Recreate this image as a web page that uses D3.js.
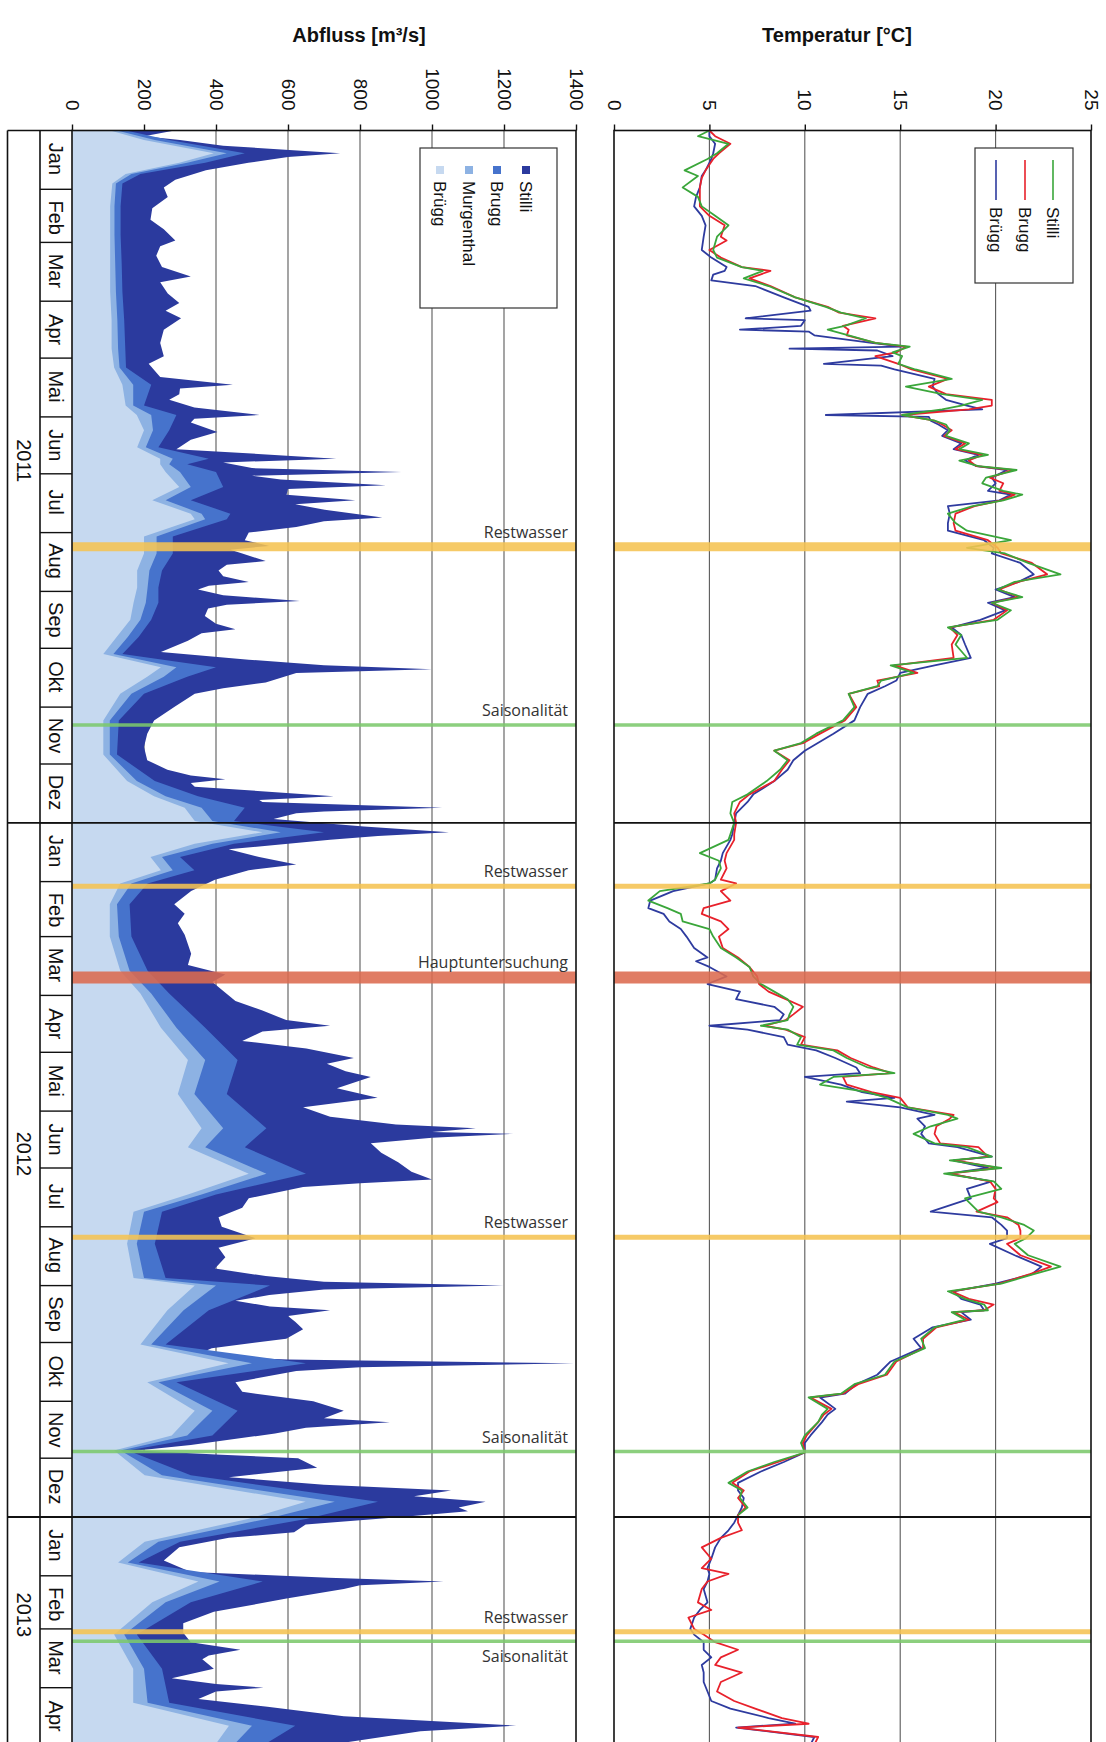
<!DOCTYPE html>
<html>
<head>
<meta charset="utf-8">
<script src="https://cdn.jsdelivr.net/npm/d3@7"></script>
<style>
  body { margin: 0; background: #fff; }
  svg { display: block; }
  text { font-family: "Liberation Sans", Arial, sans-serif; fill: #111; }
  .note { font-family: "Open Sans", "Liberation Sans", sans-serif; fill: #333; }
</style>
</head>
<body>
<script>
// ---- time frame (days counted from 1 Jan 2011) ----
const startDate = "2011-01-01";
const endDate = "2013-05-01";
const monthNames = ["Jan", "Feb", "Mar", "Apr", "Mai", "Jun", "Jul", "Aug", "Sep", "Okt", "Nov", "Dez"];
const yearLabels = ["2011", "2012", "2013"];

// ---- discharge axis ----
const qTicks = [0, 200, 400, 600, 800, 1000, 1200, 1400];
const qSeriesNames = ["Stilli", "Brugg", "Murgenthal", "Brügg"];

// Abfluss Stilli [m3/s] : [day, value]
const qStilli = [[0,285],[3,200],[5,300],[8,420],[12,745],[14,600],[17,490],[21,372],[26,287],[30,255],[35,266],[41,223],[47,218],[52,255],[58,287],[61,245],[66,234],[72,250],[77,330],[80,245],[86,266],[91,298],[95,260],[99,303],[105,255],[112,245],[119,255],[123,213],[130,245],[134,447],[136,300],[139,298],[142,270],[146,340],[150,521],[152,340],[154,330],[159,404],[163,330],[168,290],[173,734],[175,420],[178,500],[180,915],[182,500],[184,580],[187,872],[189,600],[192,596],[195,787],[197,620],[200,702],[204,862],[206,700],[209,623],[212,491],[216,480],[219,548],[221,440],[223,473],[227,538],[229,430],[232,407],[235,420],[238,491],[240,380],[242,350],[245,420],[248,633],[250,430],[252,378],[256,369],[260,400],[263,454],[265,360],[269,322],[275,247],[279,491],[282,700],[284,1000],[286,623],[291,538],[294,420],[297,341],[304,284],[311,228],[318,209],[325,200],[332,209],[337,265],[340,330],[342,426],[344,330],[346,341],[348,500],[351,727],[353,520],[354,529],[357,1028],[359,700],[360,623],[363,560],[367,811],[370,1047],[372,850],[374,717],[379,435],[383,520],[387,623],[390,491],[395,397],[401,331],[408,284],[413,313],[418,294],[424,313],[429,322],[434,331],[440,322],[445,426],[449,390],[453,416],[459,454],[464,529],[469,595],[472,717],[475,529],[480,473],[484,651],[489,783],[492,708],[496,760],[499,830],[505,736],[510,849],[515,642],[520,717],[524,900],[526,1122],[528,1000],[529,1226],[531,1000],[534,830],[539,859],[544,906],[549,943],[553,1000],[555,800],[557,642],[563,491],[568,473],[573,407],[578,416],[584,510],[589,407],[594,426],[600,397],[604,538],[607,700],[609,1198],[611,700],[614,548],[617,454],[620,550],[622,717],[625,600],[628,620],[632,642],[637,595],[642,388],[646,341],[648,600],[650,1395],[652,800],[654,623],[660,454],[665,473],[670,670],[675,755],[679,700],[681,883],[684,650],[687,564],[693,330],[696,181],[698,400],[700,628],[705,681],[710,436],[714,700],[717,1053],[720,950],[723,1149],[726,1074],[728,1100],[731,915],[735,649],[739,617],[742,436],[747,298],[754,255],[760,330],[763,713],[765,1032],[767,800],[769,755],[774,596],[781,394],[787,309],[792,309],[797,330],[801,468],[804,380],[806,362],[811,394],[816,277],[819,400],[821,532],[823,400],[827,351],[831,543],[836,755],[841,1234],[844,968],[850,755],[855,700]];

// Abfluss Brugg, Murgenthal, Brügg share these sampling days
const qDaysUpstream = [0,5,12,17,23,28,40,55,70,85,100,115,125,134,145,150,158,167,173,176,180,188,195,202,205,214,223,232,241,249,258,267,276,283,288,297,311,329,343,351,357,364,370,376,383,390,397,408,425,443,455,473,490,508,526,536,550,561,570,587,605,609,622,640,650,660,675,688,696,709,723,732,744,755,765,776,793,811,829,841,855];
const qBrugg      = [150,270,480,370,190,140,135,135,138,140,145,148,150,220,200,290,270,240,380,320,400,420,330,440,430,280,280,250,240,240,220,185,140,400,320,200,130,125,230,350,480,450,700,450,300,340,210,160,165,210,270,370,460,430,540,480,650,400,250,230,260,550,380,260,650,290,460,390,155,330,850,650,300,185,530,330,180,250,270,620,500];
const qMurgenthal = [125,230,430,320,165,122,118,118,120,122,126,128,132,170,170,220,225,205,280,270,300,330,260,360,370,235,235,215,210,205,190,155,115,290,255,165,105,105,180,260,360,390,580,390,250,280,165,125,130,160,220,290,370,340,420,370,540,360,200,180,200,400,310,220,500,240,390,320,135,250,730,540,240,155,410,260,145,200,210,500,430];
const qBruegg    = [106,200,394,298,149,112,106,106,106,106,110,110,117,140,149,180,200,181,245,245,260,298,223,330,341,200,200,181,181,171,162,124,87,247,209,134,87,87,153,228,313,341,529,341,218,247,134,105,105,134,190,247,322,294,360,322,491,322,171,153,171,341,265,190,435,209,341,277,117,202,649,489,202,128,351,223,117,170,170,436,383];

// ---- temperature axis ----
const tTicks = [0, 5, 10, 15, 20, 25];
const tSeriesNames = ["Stilli", "Brugg", "Brügg"];

// Temperatur Stilli [°C] : [day, value]
const tStilli = [[0,5.0],[3,4.4],[7,6.0],[12,5.4],[15,4.9],[21,3.7],[24,4.4],[30,3.6],[35,4.4],[40,4.6],[45,5.3],[50,6.0],[56,5.4],[63,5.2],[67,5.4],[72,6.7],[74,7.8],[78,6.8],[82,8.1],[88,9.5],[93,11.1],[96,11.9],[99,13.2],[103,12.1],[105,11.2],[108,12.3],[112,13.7],[114,15.5],[117,14.6],[119,15.1],[123,14.9],[126,15.8],[131,17.7],[135,15.3],[139,17.2],[142,19.3],[145,18.2],[147,17.2],[150,15.1],[153,16.8],[155,17.4],[158,17.6],[161,17.4],[165,18.6],[168,18.1],[171,19.6],[174,18.1],[177,19.1],[179,21.1],[183,19.5],[186,19.3],[190,20.4],[192,21.4],[195,20.4],[198,18.8],[202,17.5],[207,17.9],[211,18.5],[216,20.8],[220,18.5],[223,20.5],[228,21.7],[234,23.4],[238,21.0],[242,20.1],[246,21.4],[249,19.8],[253,20.8],[258,20.1],[262,17.5],[266,18.2],[271,17.9],[278,18.5],[282,14.5],[286,15.7],[290,14.0],[293,13.8],[297,12.3],[304,12.6],[311,12.0],[318,10.6],[323,9.8],[327,8.4],[332,9.1],[337,8.7],[343,8.0],[350,7.0],[354,6.2],[360,6.1],[365,6.3],[371,6.1],[374,6.0],[381,4.5],[385,5.5],[389,5.6],[395,5.3],[397,5.0],[401,2.4],[406,1.8],[410,2.8],[413,3.5],[417,3.6],[421,5.0],[425,5.2],[431,5.6],[436,6.4],[441,7.1],[446,7.3],[450,7.7],[454,8.4],[458,9.1],[462,9.4],[466,9.2],[469,9.1],[472,7.7],[474,9.1],[478,9.8],[482,9.6],[485,11.5],[489,12.2],[494,13.3],[497,14.7],[499,11.5],[503,10.8],[507,13.3],[510,14.3],[515,15.4],[519,17.5],[521,18.0],[525,16.6],[529,15.7],[534,16.8],[536,18.5],[541,19.8],[543,17.6],[547,20.3],[550,17.3],[554,19.9],[558,20.3],[563,18.4],[570,19.1],[573,20.3],[577,21.5],[580,22.0],[584,21.6],[587,21.0],[593,21.7],[599,23.4],[603,22.0],[608,20.3],[612,17.5],[616,18.4],[619,19.4],[622,19.6],[623,17.7],[627,18.4],[631,16.8],[637,16.1],[642,16.3],[649,14.7],[656,14.2],[661,12.6],[666,11.9],[668,10.2],[674,11.2],[677,10.9],[681,10.7],[688,10.0],[692,9.8],[697,10.0],[702,8.4],[707,7.0],[713,6.0],[717,6.7],[721,6.6],[726,7.0],[730,6.5]];

// Temperatur Brugg [°C]
const tBrugg = [[0,5.0],[3,5.3],[7,6.1],[12,5.5],[15,5.2],[21,4.8],[25,4.6],[30,4.5],[35,4.5],[40,4.5],[45,5.0],[50,5.8],[56,5.6],[58,5.9],[63,5.0],[67,5.6],[72,6.7],[74,8.2],[78,7.1],[82,8.2],[88,9.5],[93,11.2],[96,11.8],[99,13.7],[103,12.0],[105,12.3],[108,12.2],[112,13.7],[114,15.3],[117,14.8],[119,13.7],[123,14.9],[126,15.6],[131,17.5],[135,16.5],[139,17.4],[142,19.8],[145,19.8],[147,18.6],[150,15.1],[153,16.8],[155,17.2],[158,17.7],[161,17.3],[165,18.4],[168,17.9],[171,19.3],[174,18.6],[177,19.0],[179,20.9],[183,19.7],[186,20.4],[190,20.2],[192,21.0],[195,20.3],[198,18.9],[202,17.9],[207,17.8],[211,17.9],[216,19.6],[220,20.1],[223,20.3],[228,21.9],[234,22.7],[238,21.2],[242,20.2],[246,21.2],[249,19.8],[253,20.6],[258,19.9],[262,17.6],[266,18.0],[271,17.7],[278,17.8],[282,14.7],[286,15.9],[290,13.8],[293,13.9],[297,12.3],[304,12.7],[311,12.1],[318,10.8],[323,9.9],[327,8.4],[332,9.2],[337,8.8],[343,8.4],[350,7.1],[354,6.6],[360,6.3],[365,6.4],[371,6.3],[374,6.3],[381,5.9],[385,5.8],[389,5.9],[395,5.6],[397,6.4],[401,5.6],[406,6.1],[410,4.7],[413,4.6],[417,5.6],[421,6.0],[425,5.5],[431,5.7],[436,6.5],[441,7.1],[446,7.5],[450,7.6],[454,8.1],[458,9.0],[462,9.9],[466,9.4],[469,9.0],[472,7.9],[474,9.0],[478,10.0],[482,9.8],[485,11.7],[489,12.4],[494,13.6],[497,14.5],[499,12.0],[503,12.2],[507,13.5],[510,15.0],[515,15.4],[519,17.8],[521,17.6],[525,16.9],[529,16.8],[534,17.1],[536,19.1],[541,19.6],[543,17.9],[547,20.1],[550,17.6],[554,19.7],[558,20.0],[563,19.9],[565,20.1],[570,19.0],[573,20.6],[577,21.2],[580,21.3],[584,21.3],[587,20.6],[593,21.3],[599,22.9],[603,21.8],[608,20.2],[612,17.7],[616,18.6],[619,19.9],[622,19.4],[623,17.8],[627,18.6],[631,16.9],[637,16.2],[642,16.2],[649,14.8],[656,14.3],[661,12.8],[666,12.0],[668,10.3],[674,11.4],[677,11.0],[681,10.7],[688,10.1],[692,9.9],[697,10.0],[702,8.6],[707,7.1],[713,6.2],[717,6.8],[721,6.5],[726,6.9],[730,6.5],[734,6.5],[738,6.7],[742,5.6],[747,4.6],[753,5.1],[758,4.6],[761,6.0],[765,4.9],[769,4.6],[776,4.4],[780,5.1],[784,3.9],[790,4.2],[793,4.7],[797,5.3],[801,6.5],[805,5.6],[809,5.3],[813,6.7],[818,5.6],[823,5.4],[828,6.3],[832,7.4],[837,8.8],[840,10.2],[842,6.5],[847,10.7],[851,10.5]];

// Temperatur Brügg [°C]
const tBruegg = [[0,5.0],[3,5.0],[7,5.3],[12,5.2],[15,5.1],[21,4.8],[24,4.6],[30,4.5],[35,4.3],[40,4.2],[45,4.6],[50,4.8],[56,4.7],[63,4.6],[67,5.1],[72,5.9],[74,5.8],[76,5.2],[79,5.1],[82,7.4],[88,8.9],[93,10.2],[95,10.3],[99,6.9],[100,10.0],[103,9.8],[105,6.6],[106,10.2],[108,10.5],[112,13.5],[114,15.1],[115,9.2],[116,13.8],[119,14.6],[123,11.0],[124,14.0],[126,14.7],[131,16.8],[135,16.7],[139,17.0],[142,17.4],[145,18.5],[147,19.3],[150,11.1],[151,16.5],[153,16.6],[155,17.0],[158,17.5],[161,17.2],[165,18.2],[168,17.8],[171,19.1],[174,18.4],[177,19.0],[179,20.6],[183,19.8],[186,20.0],[190,19.6],[192,20.8],[195,20.2],[198,17.5],[202,17.6],[207,17.5],[211,17.5],[216,19.4],[220,19.9],[223,19.8],[228,21.3],[234,22.0],[238,21.2],[242,20.0],[246,21.0],[249,19.6],[253,20.5],[258,19.2],[262,17.7],[266,18.2],[271,18.4],[278,18.7],[282,16.8],[286,15.0],[290,14.8],[293,14.2],[297,13.3],[304,12.9],[311,12.6],[318,11.5],[327,10.0],[332,9.4],[337,9.1],[343,8.4],[350,7.3],[354,7.0],[360,6.4],[365,6.3],[371,6.2],[374,6.1],[381,5.7],[385,5.6],[389,5.4],[395,5.3],[397,5.0],[401,3.1],[406,1.9],[410,1.8],[413,2.6],[417,2.9],[421,3.5],[425,3.8],[431,4.2],[436,4.9],[438,4.3],[441,5.0],[446,5.9],[450,4.9],[454,6.6],[458,6.4],[462,8.4],[466,8.9],[469,8.7],[472,5.0],[474,7.0],[478,8.9],[482,9.1],[485,10.6],[489,11.6],[494,12.7],[497,12.9],[499,10.0],[503,11.9],[507,13.0],[510,14.7],[512,12.2],[515,15.0],[519,16.8],[521,15.9],[525,16.3],[529,16.1],[534,16.5],[536,18.0],[541,19.8],[543,17.8],[547,19.6],[550,17.5],[554,19.8],[558,18.5],[563,18.7],[570,16.6],[573,19.8],[577,20.3],[580,20.6],[584,20.6],[587,19.7],[593,21.0],[599,22.4],[603,21.9],[608,20.0],[612,17.8],[616,18.2],[619,19.2],[622,19.4],[623,18.2],[627,18.7],[631,16.7],[637,15.7],[642,16.1],[649,14.5],[656,13.8],[661,12.7],[666,12.1],[668,10.8],[674,11.6],[677,11.2],[681,10.9],[688,10.3],[692,10.0],[697,10.0],[702,8.9],[707,7.7],[713,6.5],[717,6.5],[721,6.8],[726,6.7],[730,6.5],[734,6.3],[738,6.0],[742,5.6],[747,5.3],[753,5.1],[758,4.9],[761,5.0],[765,4.9],[769,4.7],[776,4.9],[780,4.5],[784,4.2],[790,4.0],[793,4.2],[797,4.7],[801,4.7],[805,5.1],[809,4.6],[813,4.7],[818,4.7],[823,4.9],[828,5.1],[832,6.1],[837,8.1],[840,9.5],[842,6.4],[847,10.5],[851,10.3]];

// ---- sampling campaigns ----
const eventDates  = ["2011-08-08", "2011-11-10", "2012-02-03", "2012-03-22", "2012-08-06", "2012-11-27", "2013-03-02", "2013-03-07"];
const eventKinds  = ["Restwasser", "Saisonalität", "Restwasser", "Hauptuntersuchung", "Restwasser", "Saisonalität", "Restwasser", "Saisonalität"];

// ---------------------------------------------------------------
const W = 1106, H = 1742;
const svg = d3.select("body").append("svg").attr("width", W).attr("height", H);

const day0 = Date.parse(startDate + "T00:00:00Z");
const dayDate = d => new Date(day0 + d * 864e5);
const isoDate = s => new Date(Date.parse(s + "T12:00:00Z"));

const plotTop = 130.5;
const y = d3.scaleUtc()
  .domain([new Date(day0), new Date(Date.parse(endDate + "T00:00:00Z"))])
  .range([plotTop, 1744.6]);
const plotBottom = y.range()[1];

const xQ = d3.scaleLinear().domain([0, 1400]).range([72, 576]);
const xT = d3.scaleLinear().domain([0, 25]).range([614, 1091]);

const colors = {
  qStilli: "#2b3a9e", qBrugg: "#4673cc", qMurg: "#8db2e3", qBruegg: "#c6d9f0",
  tStilli: "#3aa63a", tBrugg: "#e8212b", tBruegg: "#2e3b9f",
  Restwasser: "#f5c352", "Saisonalität": "#7cc86c", Hauptuntersuchung: "#dc6a4f"
};
const eventWidth = { Restwasser: 5, "Saisonalität": 3.5, Hauptuntersuchung: 12 };

// ---- gridlines (under the areas) ----
svg.append("g").selectAll("line").data(qTicks.slice(1, -1)).join("line")
  .attr("x1", d => xQ(d)).attr("x2", d => xQ(d)).attr("y1", plotTop).attr("y2", plotBottom)
  .attr("stroke", "#5a5a5a").attr("stroke-width", 1.1);
svg.append("g").selectAll("line").data(tTicks.slice(1, -1)).join("line")
  .attr("x1", d => xT(d)).attr("x2", d => xT(d)).attr("y1", plotTop).attr("y2", plotBottom)
  .attr("stroke", "#5a5a5a").attr("stroke-width", 1.1);

// ---- discharge areas (overlapping, largest behind) ----
const areaQ = d3.area().curve(d3.curveLinear)
  .y(d => y(dayDate(d[0]))).x0(xQ(0)).x1(d => xQ(d[1]));
const zipQ = vals => qDaysUpstream.map((d, i) => [d, vals[i]]);

const gQ = svg.append("g");
[[qStilli, colors.qStilli], [zipQ(qBrugg), colors.qBrugg],
 [zipQ(qMurgenthal), colors.qMurg], [zipQ(qBruegg), colors.qBruegg]]
  .forEach(([data, c]) => gQ.append("path").datum(data).attr("d", areaQ).attr("fill", c));

// ---- temperature lines ----
const lineT = d3.line().curve(d3.curveLinear)
  .y(d => y(dayDate(d[0]))).x(d => xT(d[1]));
const gT = svg.append("g").attr("fill", "none").attr("stroke-width", 1.8).attr("stroke-linejoin", "round");
[[tBruegg, colors.tBruegg], [tBrugg, colors.tBrugg], [tStilli, colors.tStilli]]
  .forEach(([data, c]) => gT.append("path").datum(data).attr("d", lineT).attr("stroke", c));

// ---- campaign markers across both panels ----
const events = eventDates.map((d, i) => ({ date: isoDate(d), kind: eventKinds[i], i }));
const gE = svg.append("g");
events.forEach(e => {
  [[xQ(0), xQ(1400)], [xT(0), xT(25)]].forEach(([a, b]) => {
    gE.append("line").attr("x1", a).attr("x2", b).attr("y1", y(e.date)).attr("y2", y(e.date))
      .attr("stroke", colors[e.kind]).attr("stroke-width", e.i === 0 ? 9 : eventWidth[e.kind])
      .attr("stroke-opacity", 0.88);
  });
});
// labels of campaigns
events.forEach(e => {
  const below = e.i === 7;
  svg.append("text").attr("class", "note")
    .attr("x", xQ(1400) - 8)
    .attr("y", y(e.date) + (below ? 21 : -9))
    .attr("text-anchor", "end").attr("font-size", 16).text(e.kind);
});

// ---- frames ----
const frame = svg.append("g").attr("stroke", "#111").attr("fill", "none");
frame.append("rect").attr("x", xQ(0)).attr("y", plotTop).attr("width", xQ(1400) - xQ(0)).attr("height", plotBottom - plotTop).attr("stroke-width", 1.6);
frame.append("rect").attr("x", xT(0)).attr("y", plotTop).attr("width", xT(25) - xT(0)).attr("height", plotBottom - plotTop).attr("stroke-width", 1.6);
// label columns
const colL = 7.5, colM = 40;
frame.append("line").attr("x1", colL).attr("x2", xQ(0)).attr("y1", plotTop).attr("y2", plotTop).attr("stroke-width", 1.6);
frame.append("line").attr("x1", colL).attr("x2", colL).attr("y1", plotTop).attr("y2", plotBottom).attr("stroke-width", 1.6);
frame.append("line").attr("x1", colM).attr("x2", colM).attr("y1", plotTop).attr("y2", plotBottom).attr("stroke-width", 1.6);

const months = d3.utcMonth.range(y.domain()[0], y.domain()[1]);
frame.selectAll(".mline").data(months.slice(1)).join("line")
  .attr("x1", colM).attr("x2", xQ(0)).attr("y1", d => y(d)).attr("y2", d => y(d)).attr("stroke-width", 1.4);
const years = d3.utcYear.range(y.domain()[0], y.domain()[1]);
years.slice(1).forEach(d => {
  frame.append("line").attr("x1", colL).attr("x2", xQ(1400)).attr("y1", y(d)).attr("y2", y(d)).attr("stroke-width", 1.8);
  frame.append("line").attr("x1", xT(0)).attr("x2", xT(25)).attr("y1", y(d)).attr("y2", y(d)).attr("stroke-width", 1.8);
});

// month and year labels, rotated with the time axis
svg.append("g").selectAll("text").data(months).join("text")
  .attr("transform", d => `translate(${(colM + xQ(0)) / 2},${y(d3.utcDay.offset(d, 15))}) rotate(90)`)
  .attr("text-anchor", "middle").attr("dy", "0.36em").attr("font-size", 20)
  .text(d => monthNames[d.getUTCMonth()]);
svg.append("g").selectAll("text").data(years).join("text")
  .attr("transform", (d, i) => {
    const end = i < years.length - 1 ? years[i + 1] : y.domain()[1];
    return `translate(${(colL + colM) / 2},${(y(d) + y(end)) / 2 - 16}) rotate(90)`;
  })
  .attr("text-anchor", "middle").attr("dy", "0.36em").attr("font-size", 20)
  .text((d, i) => yearLabels[i]);

// ---- value axes along the top ----
function valueAxis(scale, ticks) {
  const g = svg.append("g").attr("transform", `translate(0,${plotTop})`)
    .call(d3.axisTop(scale).tickValues(ticks).tickFormat(d3.format("d")).tickSize(6).tickSizeOuter(0));
  g.select(".domain").remove();
  g.selectAll(".tick line").attr("stroke", "#111").attr("stroke-width", 1.4);
  g.selectAll(".tick text")
    .attr("y", null).attr("dy", "0.36em").attr("text-anchor", "end")
    .attr("transform", "translate(0,-20) rotate(90)")
    .attr("font-size", 19).attr("font-family", "'Liberation Sans', Arial, sans-serif").attr("fill", "#111");
}
valueAxis(xQ, qTicks);
valueAxis(xT, tTicks);

svg.append("text").attr("x", 359).attr("y", 42).attr("text-anchor", "middle")
  .attr("font-size", 20).attr("font-weight", "bold").text("Abfluss [m³/s]");
svg.append("text").attr("x", 837).attr("y", 42).attr("text-anchor", "middle")
  .attr("font-size", 20).attr("font-weight", "bold").text("Temperatur [°C]");

// ---- legends ----
const legQ = svg.append("g");
legQ.append("rect").attr("x", 420).attr("y", 148).attr("width", 137).attr("height", 160)
  .attr("fill", "#fff").attr("stroke", "#333").attr("stroke-width", 1.2);
const legQx = [526, 497, 469, 440];
const legQc = [colors.qStilli, colors.qBrugg, colors.qMurg, colors.qBruegg];
qSeriesNames.forEach((n, i) => {
  legQ.append("rect").attr("x", legQx[i] - 4).attr("y", 166).attr("width", 8).attr("height", 8).attr("fill", legQc[i]);
  legQ.append("text").attr("transform", `translate(${legQx[i]},181) rotate(90)`)
    .attr("dy", "0.36em").attr("font-size", 17).text(n);
});

const legT = svg.append("g");
legT.append("rect").attr("x", 975).attr("y", 148).attr("width", 98).attr("height", 135)
  .attr("fill", "#fff").attr("stroke", "#333").attr("stroke-width", 1.2);
const legTx = [1053, 1025, 996];
const legTc = [colors.tStilli, colors.tBrugg, colors.tBruegg];
tSeriesNames.forEach((n, i) => {
  legT.append("line").attr("x1", legTx[i]).attr("x2", legTx[i]).attr("y1", 160).attr("y2", 200)
    .attr("stroke", legTc[i]).attr("stroke-width", 1.6);
  legT.append("text").attr("transform", `translate(${legTx[i]},207) rotate(90)`)
    .attr("dy", "0.36em").attr("font-size", 17).text(n);
});
</script>
</body>
</html>
